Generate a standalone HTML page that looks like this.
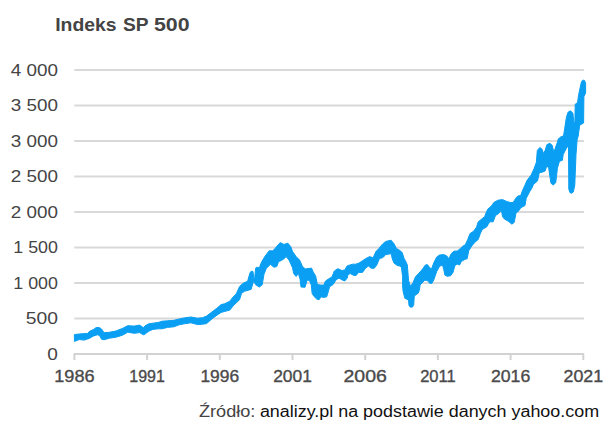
<!DOCTYPE html>
<html><head><meta charset="utf-8"><title>Indeks SP 500</title>
<style>html,body{margin:0;padding:0;background:#fff}svg{display:block}text{font-family:"Liberation Sans",sans-serif}</style></head><body>
<svg width="610" height="427" viewBox="0 0 610 427">
<rect width="610" height="427" fill="#fff"/>
<text x="55.2" y="30.9" font-size="18.9" font-weight="bold" fill="#444" textLength="61.3" lengthAdjust="spacingAndGlyphs">Indeks</text>
<text x="122.9" y="30.9" font-size="18.9" font-weight="bold" fill="#444" textLength="25.6" lengthAdjust="spacingAndGlyphs">SP</text>
<text x="154.0" y="30.9" font-size="18.9" font-weight="bold" fill="#444" textLength="35.6" lengthAdjust="spacingAndGlyphs">500</text>
<line x1="74.3" y1="70.0" x2="584" y2="70.0" stroke="#d9d9d9" stroke-width="2"/>
<line x1="74.3" y1="105.5" x2="584" y2="105.5" stroke="#d9d9d9" stroke-width="2"/>
<line x1="74.3" y1="141.0" x2="584" y2="141.0" stroke="#d9d9d9" stroke-width="2"/>
<line x1="74.3" y1="176.5" x2="584" y2="176.5" stroke="#d9d9d9" stroke-width="2"/>
<line x1="74.3" y1="212.0" x2="584" y2="212.0" stroke="#d9d9d9" stroke-width="2"/>
<line x1="74.3" y1="247.5" x2="584" y2="247.5" stroke="#d9d9d9" stroke-width="2"/>
<line x1="74.3" y1="283.0" x2="584" y2="283.0" stroke="#d9d9d9" stroke-width="2"/>
<line x1="74.3" y1="318.5" x2="584" y2="318.5" stroke="#d9d9d9" stroke-width="2"/>
<polyline points="74.4,360 74.4,354 583.3,354 583.3,360" fill="none" stroke="#d2d2d2" stroke-width="2" stroke-linejoin="round"/>
<line x1="147.1" y1="354" x2="147.1" y2="360" stroke="#d2d2d2" stroke-width="2"/>
<line x1="219.8" y1="354" x2="219.8" y2="360" stroke="#d2d2d2" stroke-width="2"/>
<line x1="292.5" y1="354" x2="292.5" y2="360" stroke="#d2d2d2" stroke-width="2"/>
<line x1="365.2" y1="354" x2="365.2" y2="360" stroke="#d2d2d2" stroke-width="2"/>
<line x1="437.9" y1="354" x2="437.9" y2="360" stroke="#d2d2d2" stroke-width="2"/>
<line x1="510.6" y1="354" x2="510.6" y2="360" stroke="#d2d2d2" stroke-width="2"/>
<text x="57.9" y="75.8" font-size="16.4" fill="#444" text-anchor="end" textLength="47.2" lengthAdjust="spacingAndGlyphs">4 000</text>
<text x="57.9" y="111.3" font-size="16.4" fill="#444" text-anchor="end" textLength="47.2" lengthAdjust="spacingAndGlyphs">3 500</text>
<text x="57.9" y="146.8" font-size="16.4" fill="#444" text-anchor="end" textLength="47.2" lengthAdjust="spacingAndGlyphs">3 000</text>
<text x="57.9" y="182.3" font-size="16.4" fill="#444" text-anchor="end" textLength="47.2" lengthAdjust="spacingAndGlyphs">2 500</text>
<text x="57.9" y="217.8" font-size="16.4" fill="#444" text-anchor="end" textLength="47.2" lengthAdjust="spacingAndGlyphs">2 000</text>
<text x="57.9" y="253.3" font-size="16.4" fill="#444" text-anchor="end" textLength="44.6" lengthAdjust="spacingAndGlyphs">1 500</text>
<text x="57.9" y="288.8" font-size="16.4" fill="#444" text-anchor="end" textLength="44.6" lengthAdjust="spacingAndGlyphs">1 000</text>
<text x="57.9" y="324.3" font-size="16.4" fill="#444" text-anchor="end" textLength="32.2" lengthAdjust="spacingAndGlyphs">500</text>
<text x="57.9" y="359.8" font-size="16.4" fill="#444" text-anchor="end" textLength="10.6" lengthAdjust="spacingAndGlyphs">0</text>
<text x="74.4" y="381.7" font-size="16.4" fill="#4a4a4a" stroke="#4a4a4a" stroke-width="0.35" text-anchor="middle" textLength="40.3" lengthAdjust="spacingAndGlyphs">1986</text>
<text x="147.1" y="381.7" font-size="16.4" fill="#4a4a4a" stroke="#4a4a4a" stroke-width="0.35" text-anchor="middle" textLength="35.6" lengthAdjust="spacingAndGlyphs">1991</text>
<text x="219.8" y="381.7" font-size="16.4" fill="#4a4a4a" stroke="#4a4a4a" stroke-width="0.35" text-anchor="middle" textLength="38.7" lengthAdjust="spacingAndGlyphs">1996</text>
<text x="292.5" y="381.7" font-size="16.4" fill="#4a4a4a" stroke="#4a4a4a" stroke-width="0.35" text-anchor="middle" textLength="38.7" lengthAdjust="spacingAndGlyphs">2001</text>
<text x="365.2" y="381.7" font-size="16.4" fill="#4a4a4a" stroke="#4a4a4a" stroke-width="0.35" text-anchor="middle" textLength="43.4" lengthAdjust="spacingAndGlyphs">2006</text>
<text x="437.9" y="381.7" font-size="16.4" fill="#4a4a4a" stroke="#4a4a4a" stroke-width="0.35" text-anchor="middle" textLength="35.5" lengthAdjust="spacingAndGlyphs">2011</text>
<text x="510.6" y="381.7" font-size="16.4" fill="#4a4a4a" stroke="#4a4a4a" stroke-width="0.35" text-anchor="middle" textLength="39.3" lengthAdjust="spacingAndGlyphs">2016</text>
<text x="583.3" y="381.7" font-size="16.4" fill="#4a4a4a" stroke="#4a4a4a" stroke-width="0.35" text-anchor="middle" textLength="39.6" lengthAdjust="spacingAndGlyphs">2021</text>
<polygon points="74.4,334.5 79.2,334.0 84.4,333.6 87.7,333.4 89.7,331.2 93.6,329.4 96.0,327.7 98.2,327.4 100.0,327.9 101.5,329.0 102.8,330.9 104.1,332.7 109.3,332.3 115.9,331.0 122.5,328.4 127.7,325.7 134.3,326.1 139.5,325.1 143.4,327.7 145.0,325.8 148.9,323.8 152.9,323.2 158.1,322.5 162.0,321.2 167.3,320.8 173.9,320.3 179.1,319.0 184.3,317.9 190.9,317.0 197.5,318.2 202.7,317.7 206.6,316.0 211.9,312.0 217.1,308.1 221.1,304.6 224.8,303.7 229.8,301.2 233.0,297.1 236.3,293.8 239.6,286.4 243.5,283.0 247.6,281.3 249.9,273.1 251.2,271.2 253.0,271.5 253.8,279.0 254.6,279.0 255.6,268.5 256.4,267.2 259.3,267.8 261.6,262.0 265.1,256.1 269.2,250.8 272.7,250.8 275.1,248.5 277.9,244.9 280.3,242.6 283.8,244.4 287.9,243.2 290.8,246.7 292.5,251.4 296.1,256.6 299.6,260.1 302.5,266.6 305.4,268.9 310.1,268.3 311.5,268.1 313.3,272.2 315.6,275.7 317.4,284.5 320.9,285.1 323.8,285.1 325.5,281.0 329.1,278.6 332.0,276.9 334.3,271.0 337.8,268.7 341.9,270.5 344.8,269.9 347.2,265.8 348.5,265.4 352.6,264.2 355.5,264.2 359.0,263.1 362.5,260.7 366.1,258.4 369.6,256.6 373.1,257.8 376.0,251.4 378.9,248.5 381.8,244.9 382.9,243.7 385.8,241.4 391.1,240.2 394.0,243.7 396.4,248.4 399.3,250.1 402.2,252.5 404.0,258.3 406.3,262.4 407.3,265.0 407.9,272.0 408.5,280.2 410.2,285.5 410.8,286.0 413.1,282.5 415.5,276.7 418.4,273.8 422.5,269.1 425.4,265.0 427.3,264.6 429.7,267.5 431.4,269.2 433.8,262.8 436.7,257.0 439.6,255.0 443.7,254.6 446.6,255.8 449.0,258.7 451.3,253.5 454.2,251.1 457.2,251.1 460.1,248.8 462.4,246.4 465.3,244.7 467.7,239.5 470.0,233.6 473.5,231.3 476.5,227.2 478.2,221.9 481.7,219.0 484.6,216.7 486.4,212.0 487.9,209.0 491.4,206.1 493.8,202.5 497.9,200.2 502.5,199.6 506.6,201.4 510.1,202.5 513.1,202.5 516.0,197.9 517.7,196.1 520.7,195.5 522.4,190.8 525.0,185.0 527.0,180.4 531.1,175.1 534.0,168.7 536.4,162.2 537.3,150.5 539.9,147.4 542.2,149.4 543.4,153.5 545.1,150.5 546.9,144.7 549.8,143.3 552.2,145.3 553.9,152.3 555.7,147.0 557.4,142.3 558.3,138.9 561.2,136.6 563.5,136.0 564.7,128.4 566.5,116.7 568.2,112.0 570.5,110.8 572.9,113.2 573.8,122.5 574.9,121.5 575.2,104.2 577.5,102.7 578.7,94.5 581.2,82.8 582.3,80.5 583.5,80.2 584.6,80.6 585.6,83.4 585.6,93.0 583.9,96.7 583.6,123.0 579.7,125.2 578.2,136.0 577.1,139.8 576.0,154.6 575.0,179.0 574.8,185.0 573.3,192.0 571.5,193.3 569.9,192.5 568.8,189.0 568.5,148.0 567.3,146.4 563.2,154.6 562.4,160.3 560.0,161.0 559.2,162.2 557.4,168.1 556.5,176.3 555.7,182.7 553.3,185.0 551.0,183.3 550.4,179.8 548.7,168.1 546.9,165.7 545.1,171.0 542.2,172.2 539.3,172.7 537.5,180.9 533.5,184.4 531.7,188.5 529.5,191.9 526.2,198.4 525.0,205.5 520.7,207.8 518.9,210.7 516.0,213.1 514.2,222.4 511.9,224.2 508.4,221.3 504.3,218.9 502.5,216.6 501.4,210.1 498.5,213.7 495.5,215.4 493.2,221.8 489.7,221.8 487.9,224.8 487.0,226.6 482.3,229.5 480.5,233.1 478.2,239.5 474.7,242.4 471.8,245.9 468.8,250.6 467.1,258.8 465.0,259.3 461.3,261.6 459.5,265.1 457.2,264.0 454.8,265.7 453.1,272.2 450.7,275.7 447.2,276.3 444.9,275.1 443.7,269.2 442.5,265.1 439.6,266.3 436.7,271.6 433.8,279.8 432.0,283.3 429.7,283.3 427.3,280.4 424.8,280.2 420.1,284.9 419.6,289.0 418.4,293.0 414.3,296.0 413.7,304.8 412.5,307.1 410.2,307.1 409.0,305.4 408.5,300.0 404.9,298.3 403.2,291.9 402.6,286.0 402.6,276.7 401.4,267.0 399.3,265.9 397.0,265.3 394.0,263.0 392.3,258.9 391.1,253.6 388.2,254.2 385.3,254.8 383.5,257.1 382.4,257.8 379.5,258.4 376.6,265.4 374.2,268.3 371.3,268.3 368.4,266.0 365.5,268.3 362.5,272.4 358.5,272.4 356.1,275.4 353.8,275.4 350.3,273.6 348.0,274.5 347.2,278.1 344.8,281.0 341.9,279.8 339.0,278.1 336.1,279.8 333.1,284.5 329.6,286.8 328.5,290.9 326.7,296.8 323.8,297.4 320.9,296.8 319.1,299.7 316.8,299.1 313.8,296.2 312.1,293.3 311.3,285.0 309.5,280.6 307.2,280.0 305.0,287.3 301.0,287.0 300.1,279.4 298.4,273.6 296.1,276.5 293.7,273.6 292.5,267.7 289.0,260.1 286.1,256.6 283.8,259.0 279.7,261.3 278.6,261.4 276.8,266.6 273.9,267.2 270.4,264.3 266.3,268.4 264.0,274.2 262.2,284.8 259.3,287.1 255.8,284.8 253.5,281.3 251.1,289.4 244.7,291.2 241.5,293.3 239.6,299.7 236.3,302.8 233.0,306.1 229.8,310.1 224.8,311.4 221.1,312.4 217.1,315.1 211.9,318.9 206.6,323.6 202.7,324.2 197.5,324.6 190.9,322.8 184.3,323.8 179.1,324.8 173.9,326.8 167.3,327.4 162.0,328.8 158.1,328.8 152.9,329.4 148.9,331.1 145.0,334.1 143.4,334.8 139.5,332.6 134.3,333.3 127.7,332.2 122.5,335.2 115.9,337.2 109.3,338.2 104.1,339.8 101.5,339.2 99.5,335.4 97.5,334.8 93.6,335.9 89.7,338.2 84.4,340.1 79.2,339.6 74.4,341.4" fill="#0a9ff2" stroke="#0a9ff2" stroke-width="1" stroke-linejoin="round"/>
<text x="199" y="416.8" font-size="15.8" fill="#444" textLength="56.4" lengthAdjust="spacingAndGlyphs">Źródło:</text>
<text x="259.9" y="416.8" font-size="15.8" fill="#111" textLength="339.2" lengthAdjust="spacingAndGlyphs">analizy.pl na podstawie danych yahoo.com</text>
</svg></body></html>
